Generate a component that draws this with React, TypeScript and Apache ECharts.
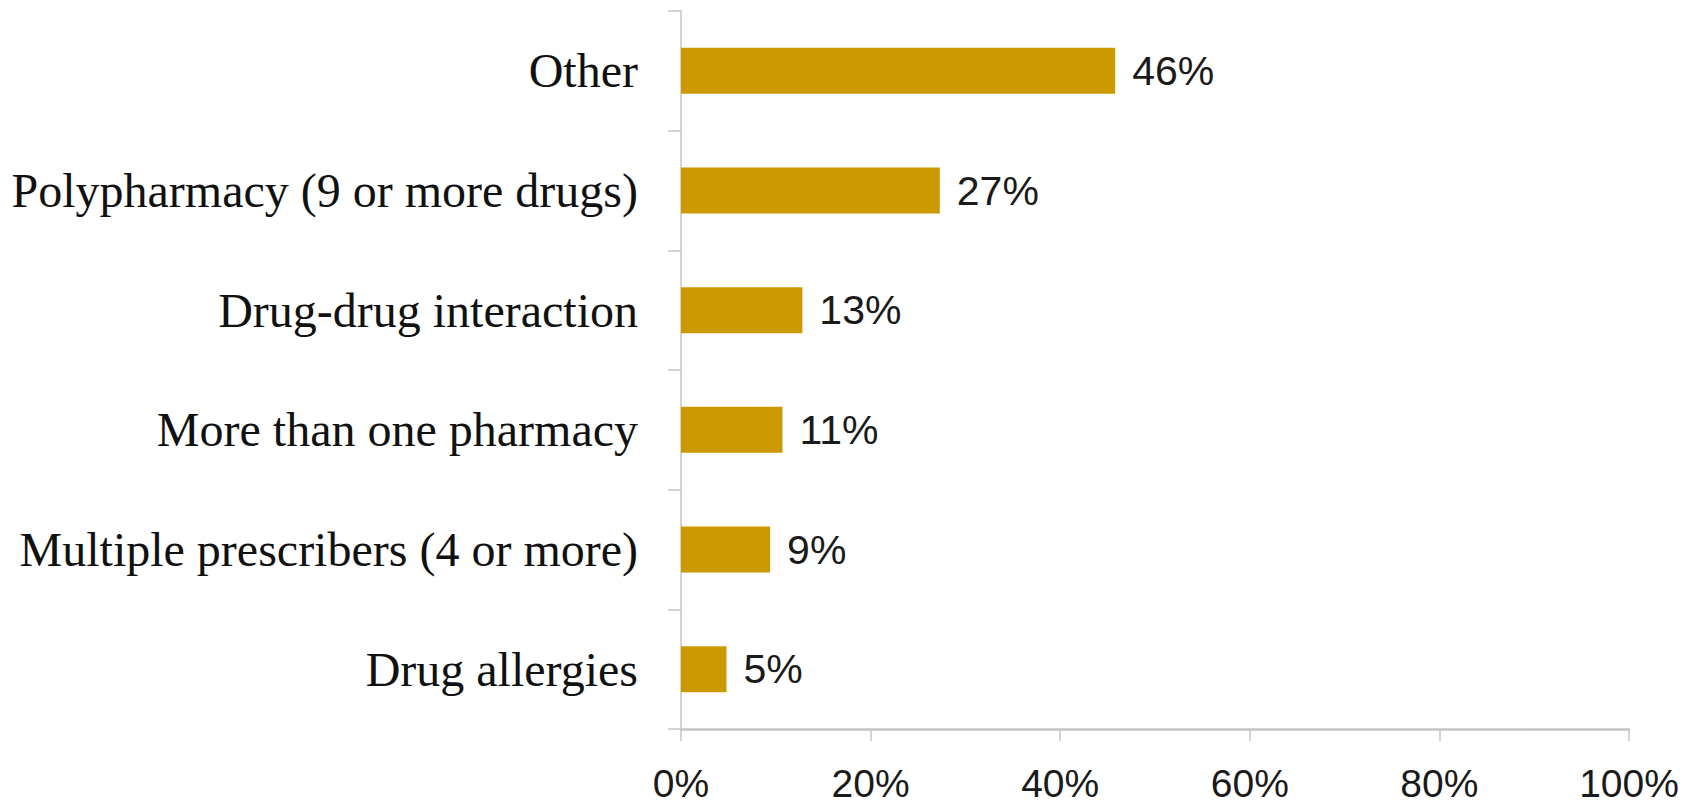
import React, { useEffect, useRef } from "react";
import * as echarts from "echarts";

const categories = [
  "Other",
  "Polypharmacy (9 or more drugs)",
  "Drug-drug interaction",
  "More than one pharmacy",
  "Multiple prescribers (4 or more)",
  "Drug allergies",
];
const values = [45.8, 27.3, 12.8, 10.7, 9.4, 4.8];
const xTicks = [0, 20, 40, 60, 80, 100];

export default function App() {
  const ref = useRef<HTMLDivElement>(null);
  useEffect(() => {
    if (!ref.current) return;
    const chart = echarts.init(ref.current, null, { renderer: "svg" });
    chart.setOption({
      animation: false,
      backgroundColor: "#ffffff",
      grid: { left: 681, right: 67, top: 11, bottom: 79, containLabel: false },
      xAxis: {
        type: "value",
        min: xTicks[0],
        max: xTicks[xTicks.length - 1],
        interval: xTicks[1] - xTicks[0],
        axisLine: { show: true, lineStyle: { color: "#c4c4c4", width: 2.5 } },
        axisTick: { show: true, length: 12, inside: false, lineStyle: { color: "#c4c4c4", width: 1.5 } },
        splitLine: { show: false },
        axisLabel: {
          formatter: "{value}%",
          fontFamily: "Liberation Sans",
          fontSize: 39,
          lineHeight: 39,
          color: "#1a1a1a",
          margin: 35,
        },
      },
      yAxis: {
        type: "category",
        data: categories,
        inverse: true,
        axisLine: { show: true, lineStyle: { color: "#c4c4c4", width: 1.5 } },
        axisTick: { show: true, length: 13, inside: false, alignWithLabel: false, lineStyle: { color: "#c4c4c4", width: 1.5 } },
        splitLine: { show: false },
        axisLabel: {
          fontFamily: "Liberation Serif",
          fontSize: 48,
          color: "#111111",
          margin: 43,
        },
      },
      series: [
        {
          type: "bar",
          data: values,
          barWidth: 46,
          itemStyle: { color: "#CC9900" },
          label: {
            show: true,
            position: "right",
            distance: 17,
            fontFamily: "Liberation Sans",
            fontSize: 41,
            color: "#1a1a1a",
            formatter: (p: any) => Math.round(p.value) + "%",
          },
        },
      ],
    });
    return () => chart.dispose();
  }, []);
  return (
    <div
      ref={ref}
      style={{ position: "absolute", left: 0, top: 0, width: 1696, height: 808 }}
    />
  );
}
